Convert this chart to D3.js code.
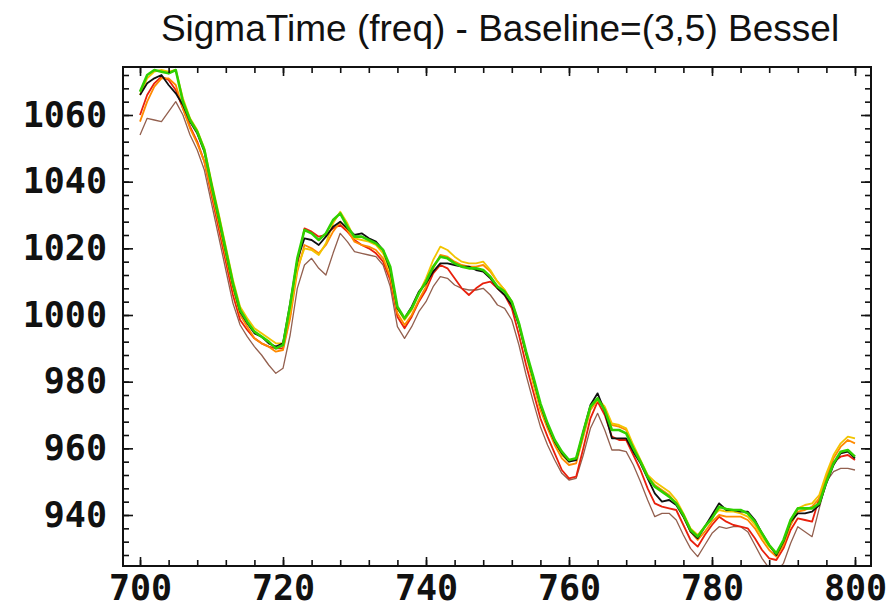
<!DOCTYPE html>
<html>
<head>
<meta charset="utf-8">
<script src="https://cdn.jsdelivr.net/npm/d3@7"></script>
<style>
  html, body { margin: 0; padding: 0; background: #ffffff; }
  svg { display: block; }
</style>
</head>
<body>
<div id="chart"></div>
<script>
const titleText = "SigmaTime (freq) - Baseline=(3,5) Bessel";
const xStart = 700;
const xTickLabels = [700, 720, 740, 760, 780, 800];
const yTickLabels = [940, 960, 980, 1000, 1020, 1040, 1060];

const brownSeries = [1054,1059,1058.5,1058,1061,1064,1060,1054,1049.5,1043.5,1033.5,1023.5,1013.5,1003.5,997,993.5,990.5,988,985,982.5,984,994,1008,1015,1017,1014,1012,1018.5,1024.5,1022,1019,1018.5,1018,1017.5,1015,1008.5,996.5,993,996.5,1001,1004,1008.5,1011.5,1011,1009,1008,1007.5,1007.5,1008,1006,1003,1002,998.5,991,982,974,966.5,961,956.5,952.5,950.5,951,958,966,970.5,965.5,959.5,959.5,959,955,950,944.5,939.5,940.5,940.5,938.5,934,930,927.5,931,934.5,936.5,936,936.5,936.5,935,931,927,924,923,925.5,931.5,936.5,935,933.5,942,950,953,954,954,953.5];
const redSeries = [1060,1066,1069.5,1071.5,1070.5,1067.5,1062,1056.5,1052,1046,1036,1026,1016,1006,998.5,995.5,993,991.5,990.5,990,990,1000,1015,1026,1025,1023.5,1024,1026,1027,1025,1022.5,1021,1020,1018.5,1016,1010.5,999.5,996,999.5,1004,1007.5,1012.5,1015,1014,1011,1008,1006,1008,1009.5,1010,1008,1006,1002,994,985,977,969,963.5,958.5,953.5,951,951.5,960,969,974,970,963.5,962.5,962.5,958,953.5,948,943.5,942.5,942,941.5,937,932.5,930.5,934,937,939.5,938,937,936.5,936,933,929.5,927,926.5,930,935.5,939,938.5,938,945,951,956,957.5,958,956.5];
const orangeSeries = [1058,1064,1068.5,1071,1071,1069,1062,1056,1051.5,1046,1037,1027.5,1017.5,1008,1000,996.5,993,991.5,990.5,989,989.5,999,1013,1021,1020,1018.5,1021,1025,1028,1025.5,1022,1021,1020.5,1019.5,1017,1011.5,1000.5,997,1000,1004.5,1008.5,1014,1018,1017.5,1016,1015,1014.5,1014.5,1015,1013,1010,1007.5,1004,997,988,979.5,971.5,966,961,957,955,955.5,963.5,971.5,974.5,972,967,966.5,965.5,960.5,956,951.5,949,947.5,946,943.5,939.5,935,932.5,935,938,940,939.5,939.5,939.5,938.5,936,932.5,929.5,927.5,931,937,941,941.5,942.5,945,951.5,957,960.5,962.5,961.5];
const yellowSeries = [1066,1071,1073,1073.5,1073,1073.5,1065,1059,1055.5,1050,1040,1030.5,1020.5,1010.5,1002.5,999,996,994.5,993,991.5,991.5,1001,1014,1020,1019.5,1018,1021.5,1027.5,1031,1027.5,1023,1022.5,1022,1021,1018.5,1013,1002,998.5,1001.5,1006.5,1011,1016.5,1020.5,1019.5,1017.5,1016,1015.5,1015.5,1016,1013.5,1010,1007.5,1004,997.5,988.5,980,972.5,967,962,958,956,957,964.5,972,975,972.5,967.5,967,966,961,956.5,952,950,948.5,947,944.5,940.5,936,934,936.5,939.5,941.5,941,941,940.5,939.5,937,933.5,930.5,928.5,932,938.5,942,943,943.5,946,952.5,958,961.5,963.5,963];
const blackSeries = [1066,1069.5,1071,1072,1069,1066.5,1063,1058,1054.5,1049,1039,1029,1019,1009,1001,997.5,994.5,993.5,991.5,990.5,991.5,1003.5,1016.5,1023,1022.5,1021,1023.5,1026.5,1028,1026,1024,1024.5,1023,1022,1019.5,1013.5,1002,999,1002.5,1007,1009.5,1013,1015.5,1015.5,1015,1014.5,1014.5,1013.5,1013,1011,1008,1006,1003,997,988.5,981,973,967,962,958.5,956,956.5,965,973,976.5,971,963,963,963,959,955.5,951,946.5,944,944.5,943,939.5,935,933,936.5,940,943.5,941.5,941.5,941,941,938.5,934.5,931,928,932,938,940.5,940.5,941,943,949.5,955,958.5,959,957];
const greenSeries = [1067,1072,1073.5,1073,1072.5,1073.5,1064,1058.5,1055,1049.5,1039,1029.5,1019.5,1009.5,1001.5,998,995,993.5,992,990,991,1003,1017,1025.5,1024.5,1022.5,1024.5,1028.5,1030.5,1026.5,1023.5,1023.5,1022.5,1021.5,1019.5,1014.5,1002.5,999,1002,1006.5,1010,1014.5,1017.5,1017,1015.5,1014.5,1014,1014,1013.5,1011.5,1008.5,1007,1004,997.5,989,981.5,973.5,967.5,962.5,959,956.5,957,965,972.5,975,971.5,965.5,965.5,964.5,960,956,951.5,948.5,947,945.5,943.5,940,935.5,933.5,936.5,939,942.5,941.8,941.5,941.5,940.5,938,934.5,931,928.5,932.5,938.5,942,942,942,943.5,950,955.5,959,959.5,957.5];

const seriesList = [
  { name: "brown",  values: brownSeries,  color: "#93604f", width: 1.3 },
  { name: "red",    values: redSeries,    color: "#e8200c", width: 1.8 },
  { name: "orange", values: orangeSeries, color: "#ff8a00", width: 1.8 },
  { name: "yellow", values: yellowSeries, color: "#f2c400", width: 1.8 },
  { name: "black",  values: blackSeries,  color: "#101010", width: 1.8 },
  { name: "green",  values: greenSeries,  color: "#2fd000", width: 2.6 }
];

const W = 889, H = 609;
const margin = { top: 67, right: 18, bottom: 43, left: 123 };
const iw = W - margin.left - margin.right;
const ih = H - margin.top - margin.bottom;

const svg = d3.select("#chart").append("svg")
  .attr("width", W).attr("height", H)
  .style("background", "#fff");

svg.append("text")
  .attr("x", 500).attr("y", 41)
  .attr("text-anchor", "middle")
  .attr("font-family", "'Liberation Sans', Arial, sans-serif")
  .attr("font-size", 37)
  .attr("fill", "#111")
  .text(titleText);

const x = d3.scaleLinear().domain([697.62, 802.24]).range([0, iw]);
const y = d3.scaleLinear().domain([924.7, 1074.4]).range([ih, 0]);

const g = svg.append("g").attr("transform", `translate(${margin.left},${margin.top})`);

g.append("clipPath").attr("id", "clip")
  .append("rect").attr("width", iw).attr("height", ih);

const line = d3.line()
  .x((d, i) => x(xStart + i))
  .y(d => y(d));

g.append("g").attr("clip-path", "url(#clip)")
  .selectAll("path").data(seriesList).join("path")
  .attr("fill", "none")
  .attr("stroke", d => d.color)
  .attr("stroke-width", d => d.width)
  .attr("stroke-linejoin", "round")
  .attr("d", d => line(d.values));

const xMinor = d3.range(700, 802.1, 4);
const yMinor = d3.range(928, 1074.5, 4);
const fontMono = "'DejaVu Sans Mono', monospace";

function styleAxis(sel) {
  sel.select(".domain").remove();
  sel.selectAll("line").attr("stroke", "#111").attr("stroke-width", 1.6);
  sel.selectAll("text").attr("font-family", fontMono).attr("font-weight", "bold")
    .attr("font-size", 35).attr("fill", "#111");
}

// minor ticks on all four sides
g.append("g").attr("transform", `translate(0,${ih})`)
  .call(d3.axisBottom(x).tickValues(xMinor).tickSize(-6).tickFormat("")).call(styleAxis);
g.append("g")
  .call(d3.axisTop(x).tickValues(xMinor).tickSize(-6).tickFormat("")).call(styleAxis);
g.append("g")
  .call(d3.axisLeft(y).tickValues(yMinor).tickSize(-6).tickFormat("")).call(styleAxis);
g.append("g").attr("transform", `translate(${iw},0)`)
  .call(d3.axisRight(y).tickValues(yMinor).tickSize(-6).tickFormat("")).call(styleAxis);

// major ticks with labels
g.append("g").attr("transform", `translate(0,${ih})`)
  .call(d3.axisBottom(x).tickValues(xTickLabels).tickSize(-9).tickPadding(9).tickFormat(d3.format("d")))
  .call(styleAxis);
g.append("g")
  .call(d3.axisLeft(y).tickValues(yTickLabels).tickSize(-10).tickPadding(16).tickFormat(d3.format("d")))
  .call(styleAxis);
g.append("g").attr("transform", `translate(${iw},0)`)
  .call(d3.axisRight(y).tickValues(yTickLabels).tickSize(-10).tickFormat(""))
  .call(styleAxis);
g.append("g")
  .call(d3.axisTop(x).tickValues(xTickLabels).tickSize(-9).tickFormat(""))
  .call(styleAxis);

// frame
g.append("rect").attr("width", iw).attr("height", ih)
  .attr("fill", "none").attr("stroke", "#111").attr("stroke-width", 2);
</script>
</body>
</html>
